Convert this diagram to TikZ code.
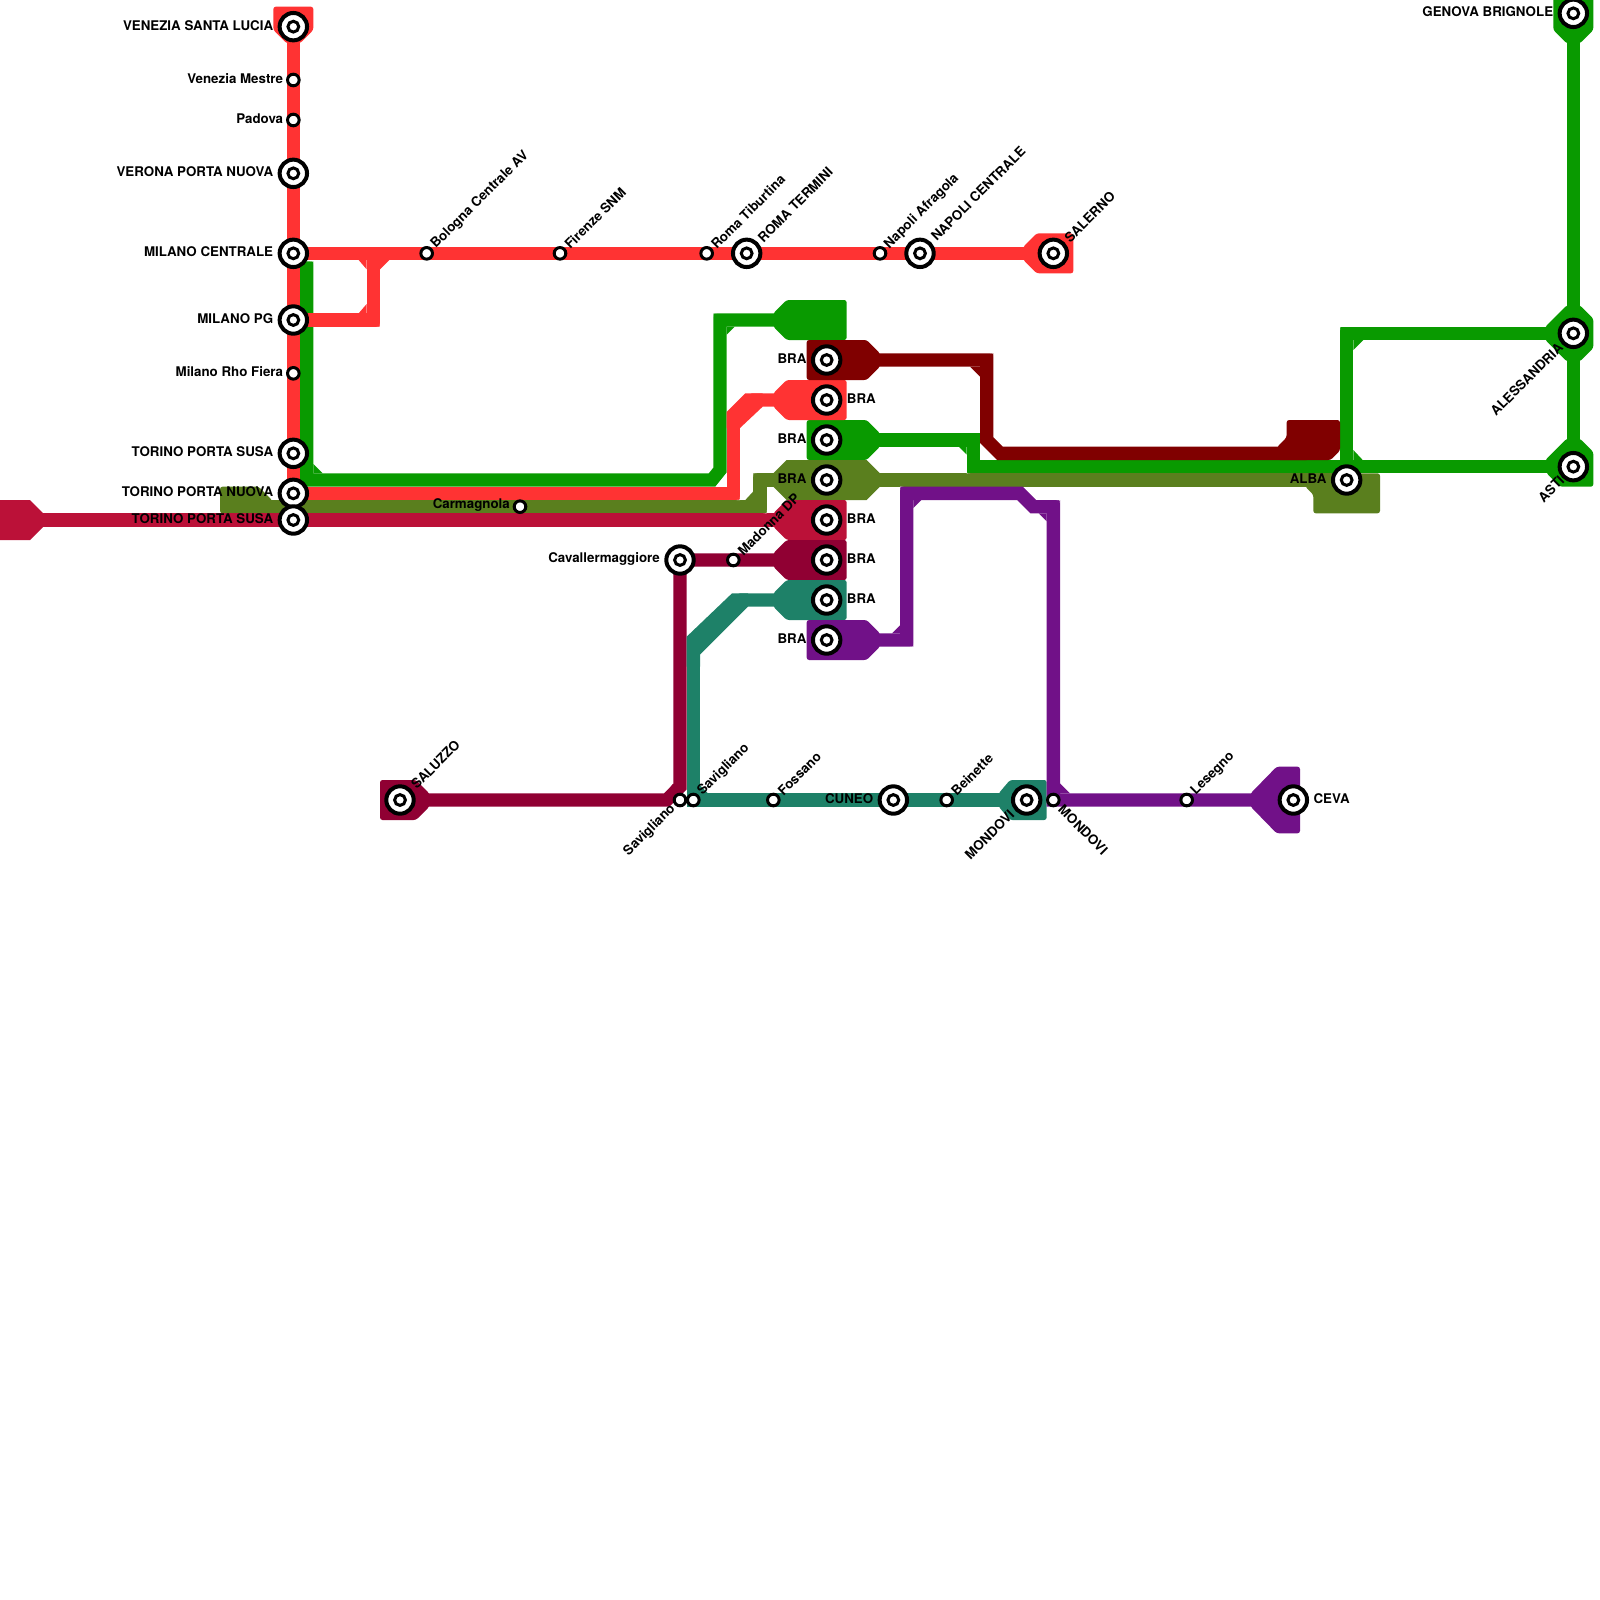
\documentclass[tikz,border=0pt]{standalone}
\usepackage{fontspec}
\setmainfont{TeX Gyre Heros}
\pgfdeclarelayer{bg}
\pgfsetlayers{bg,main}
\definecolor{cRed}{HTML}{FF3333}
\definecolor{cGreen}{HTML}{099A00}
\definecolor{cOlive}{HTML}{5A7F1E}
\definecolor{cCrimson}{HTML}{BB1138}
\definecolor{cWine}{HTML}{900033}
\definecolor{cTeal}{HTML}{1E8168}
\definecolor{cPurple}{HTML}{711188}
\definecolor{cMaroon}{HTML}{800000}
\tikzset{
  ln/.style={line width=13.333pt,line join=miter},
  lnb/.style={line width=13.333pt,line join=bevel},
  blob/.style={rounded corners=2.5pt},
  bigring/.style={circle,draw=black,fill=white,line width=4pt,minimum size=27.4pt,inner sep=0pt,outer sep=0pt},
  smallring/.style={circle,draw=black,fill=white,line width=3pt,minimum size=11.6pt,inner sep=0pt,outer sep=0pt},
  lb/.style={font=\fontsize{13.33}{13.33}\selectfont\bfseries,inner sep=0pt,text=black},
  lbW/.style={lb,anchor=east},
  lbE/.style={lb,anchor=west},
  lbNE/.style={lb,anchor=west,rotate=45},
  lbSW/.style={lb,anchor=east,rotate=45},
  lbSE/.style={lb,anchor=west,rotate=-45},
}
\newcommand\bigst[2]{\node[bigring] (#1) at (#2) {}; \draw[black,line width=3pt,fill=white] (#1.center) circle (5.4pt);}
\newcommand\smallst[2]{\node[smallring] (#1) at (#2) {};}
\newcommand\chf[4]{(#1,#2) -- ++(#3,0) -- ++(-#3,#4) -- cycle}
\newcommand\rc[4]{(#1,#2) -- ++(#3*0.25,0) .. controls (#1,#2) .. ($(#1,#2)+(0,#4*0.25)$) -- cycle}
\usetikzlibrary{calc}
\begin{document}
\begin{tikzpicture}[x=13.3333pt,y=-13.3333pt]
\useasboundingbox (0,0) rectangle (120,120);
% stations
\bigst{vsl}{22,2}
\smallst{mestre}{22,6}
\smallst{padova}{22,9}
\bigst{verona}{22,13}
\bigst{mic}{22,19}
\bigst{mipg}{22,24}
\smallst{rho}{22,28}
\bigst{tpsa}{22,34}
\bigst{tpn}{22,37}
\bigst{tpsb}{22,39}
\smallst{carm}{39,38}
\smallst{bolo}{32,19}
\smallst{fire}{42,19}
\smallst{rtib}{53,19}
\bigst{rter}{56,19}
\smallst{naf}{66,19}
\bigst{nac}{69,19}
\bigst{sal}{79,19}
\bigst{salu}{30,60}
\bigst{cav}{51,42}
\smallst{mad}{55,42}
\smallst{sava}{51,60}
\smallst{savb}{52,60}
\smallst{foss}{58,60}
\bigst{cun}{67,60}
\smallst{bei}{71,60}
\bigst{mona}{77,60}
\smallst{monb}{79,60}
\smallst{les}{89,60}
\bigst{ceva}{97,60}
\bigst{alba}{101,36}
\bigst{aless}{118,25}
\bigst{asti}{118,35}
\bigst{gen}{118,1}
\bigst{braa}{62,27}
\bigst{brab}{62,30}
\bigst{brac}{62,33}
\bigst{brad}{62,36}
\bigst{brae}{62,39}
\bigst{braf}{62,42}
\bigst{brag}{62,45}
\bigst{brah}{62,48}
% bends
\coordinate (g0) at (23,19.6);
\coordinate (g1) at (23,36);
\coordinate (g2) at (53.4,36);
\coordinate (g3) at (54,35.25);
\coordinate (g4) at (54,24);
\coordinate (g5) at (60,24);
\coordinate (h1) at (73,33);
\coordinate (h2) at (73,35);
\coordinate (h3) at (101,35);
\coordinate (h4) at (101,25);
\coordinate (r1) at (55,37);
\coordinate (r2) at (55,31.4);
\coordinate (r3) at (56.4,30);
\coordinate (b1) at (28,24);
\coordinate (b2) at (28,19);
\coordinate (o0) at (18,38);
\coordinate (o1) at (57,38);
\coordinate (o2) at (57,36);
\coordinate (m1) at (74,27);
\coordinate (m2) at (74,33);
\coordinate (m3) at (75,34);
\coordinate (m4) at (98,34);
\coordinate (c0) at (1,39);
\coordinate (w1) at (51,59);
\coordinate (w2) at (50,60);
\coordinate (t1) at (55.5,45);
\coordinate (t2) at (52,48.5);
\coordinate (p1) at (68,48);
\coordinate (p2) at (68,37);
\coordinate (p3) at (76.5,37);
\coordinate (p4) at (77.5,38);
\coordinate (p5) at (79,38);
\begin{pgfonlayer}{bg}
% green
\draw[ln,cGreen] (g0) -- (g1) -- (g2) -- (g3) -- (g4) -- (g5);
\fill[cGreen] \chf{23.5}{35.5}{.7}{-.7} \chf{54.5}{24.5}{.6}{.6};
\fill[cGreen,blob] (58,23.5) -- (59,22.5) -- (63.5,22.5) -- (63.5,25.5) -- (59,25.5) -- (58,24.5) -- cycle;
\draw[ln,cGreen] (brac.center) -- (h1) -- (h2) -- (h3);
\fill[cGreen] \chf{72.5}{33.5}{-.6}{.6};
\fill[cGreen,blob] (60.5,31.5) -- (65,31.5) -- (66,32.5) -- (66,33.5) -- (65,34.5) -- (60.5,34.5) -- cycle;
\draw[ln,cGreen] (asti.center) -- (h3) -- (h4) -- (aless.center);
\draw[ln,cGreen] (gen.center) -- (asti.center);
\fill[cGreen] \chf{101.5}{25.5}{.75}{.75} \chf{101.5}{34.5}{.7}{-.75};
\fill[cGreen,blob] (115.9,24.5) -- (117.5,22.9) -- (118.5,22.9) -- (119.5,23.9) -- (119.5,26.1) -- (118.5,27.1) -- (117.5,27.1) -- (115.9,25.5) -- cycle;
\fill[cGreen,blob] (115.9,34.5) -- (117.5,32.9) -- (118.5,32.9) -- (119.5,33.9) -- (119.5,36.5) -- (117,36.5) -- (116,35.5) -- cycle;
\fill[cGreen,blob] (116.5,-1) -- (119.5,-1) -- (119.5,2.25) -- (118.5,3.25) -- (117.5,3.25) -- (116.5,2.25) -- cycle;
% red
\draw[ln,cRed] (vsl.center) -- (tpn.center);
\draw[ln,cRed] (mic.center) -- (sal.center);
\draw[ln,cRed] (mipg.center) -- (b1) -- (b2);
\fill[cRed] \chf{27.5}{19.5}{-.6}{.7} \chf{28.5}{19.5}{.7}{.7} \chf{27.5}{23.5}{-.6}{-.7};
\draw[ln,cRed] (tpn.center) -- (r1) -- (r2);
\draw[lnb,cRed] (r2) -- (r3) -- (brab.center);
\fill[cRed] (54.5,30.9) -- (55.9,29.5) -- (57.2,29.5) -- (57.2,30.5) -- (55.5,32.1) -- (54.5,32.1) -- cycle;
\fill[cRed,blob] (58,29.5) -- (59,28.5) -- (63.5,28.5) -- (63.5,31.5) -- (59,31.5) -- (58,30.5) -- cycle;
\fill[cRed,blob] (20.5,0.5) -- (23.5,0.5) -- (23.5,2.25) -- (22.5,3.25) -- (21.5,3.25) -- (20.5,2.25) -- cycle;
\fill[cRed,blob] (76.75,18.5) -- (77.75,17.5) -- (80.5,17.5) -- (80.5,20.5) -- (77.75,20.5) -- (76.75,19.5) -- cycle;
% olive
\draw[ln,cOlive] (o0) -- (o1) -- (o2) -- (brad.center);
\draw[ln,cOlive] (brad.center) -- (alba.center);
\fill[cOlive] (55.9,37.5) -- (56.5,36.85) -- (56.5,37.5) -- cycle;
\fill[cOlive,blob] (16.5,36.5) -- (19.4,36.5) -- (20.4,37.5) -- (20.4,38.5) -- (16.5,38.5) -- cycle;
\fill[cOlive] (58,35.5) -- (59,34.5) -- (65,34.5) -- (66,35.5) -- (66,36.5) -- (65,37.5) -- (59,37.5) -- (58,36.5) -- cycle;
\fill[cOlive,blob] (97.9,36.5) -- (98.5,37.1) -- (98.5,38.5) -- (103.5,38.5) -- (103.5,35.5) -- (101,35.5) -- (97.9,35.5) -- cycle;
% crimson
\draw[ln,cCrimson] (c0) -- (brae.center);
\fill[cCrimson] (-1,37.5) -- (2.25,37.5) -- (3.25,38.5) -- (3.25,39.5) -- (2.25,40.5) -- (-1,40.5) -- cycle;
\fill[cCrimson,blob] (58,38.5) -- (59,37.5) -- (63.5,37.5) -- (63.5,40.5) -- (59,40.5) -- (58,39.5) -- cycle;
% wine
\draw[ln,cWine] (braf.center) -- (cav.center) -- (w1) -- (w2) -- (salu.center);
\fill[cWine] \chf{50.5}{59.5}{-.6}{-.75};
\fill[cWine,blob] (58,41.5) -- (59,40.5) -- (63.5,40.5) -- (63.5,43.5) -- (59,43.5) -- (58,42.5) -- cycle;
\fill[cWine,blob] (28.5,58.5) -- (31.2,58.5) -- (32.2,59.5) -- (32.2,60.5) -- (31.2,61.5) -- (28.5,61.5) -- cycle;
% teal
\draw[lnb,cTeal] (brag.center) -- (t1) -- (t2);
\draw[ln,cTeal] (t2) -- (savb.center) -- (mona.center);
\fill[cTeal] (54.9,44.5) -- (56.1,44.5) -- (56.1,45.5) -- (52.5,49.1) -- (52.5,50) -- (51.5,50) -- (51.5,47.75) -- cycle;
\fill[cTeal] \chf{52.5}{59.5}{.6}{-.6};
\fill[cTeal,blob] (58,44.5) -- (59,43.5) -- (63.5,43.5) -- (63.5,46.5) -- (59,46.5) -- (58,45.5) -- cycle;
\fill[cTeal,blob] (74.9,59.5) -- (75.75,58.5) -- (78.5,58.5) -- (78.5,61.5) -- (75.75,61.5) -- (74.9,60.5) -- cycle;
% maroon
\draw[ln,cMaroon] (braa.center) -- (m1) -- (m2) -- (m3) -- (m4);
\fill[cMaroon] \chf{73.5}{27.5}{-.75}{.75};
\fill[cMaroon,blob] (60.5,25.5) -- (65,25.5) -- (66,26.5) -- (66,27.5) -- (65,28.5) -- (60.5,28.5) -- cycle;
\fill[cMaroon,blob] (95.8,33.5) -- (96.5,32.8) -- (96.5,31.5) -- (100.5,31.5) -- (100.5,33.8) -- (99.8,34.5) -- (95.8,34.5) -- cycle;
% purple
\draw[ln,cPurple] (brah.center) -- (p1) -- (p2) -- (p3) -- (p4) -- (p5) -- (monb.center) -- (ceva.center);
\fill[cPurple] \chf{67.5}{47.5}{-.6}{-.6} \chf{68.5}{37.5}{.6}{.6} \chf{78.5}{38.5}{-.6}{.6} \chf{79.5}{59.5}{.75}{-.75};
\fill[cPurple,blob] (60.5,46.5) -- (65,46.5) -- (66,47.5) -- (66,48.5) -- (65,49.5) -- (60.5,49.5) -- cycle;
\fill[cPurple,blob] (93.8,59.5) -- (95.75,57.5) -- (97.5,57.5) -- (97.5,62.5) -- (95.75,62.5) -- (93.8,60.5) -- cycle;
% softened outer corners of the bends
\fill[white] \rc{74.5}{26.5}{-1}{1} \rc{28.5}{24.5}{-1}{-1} \rc{53.5}{23.5}{1}{1} \rc{55.5}{37.5}{-1}{-1} \rc{100.5}{24.5}{1}{1} \rc{68.5}{48.5}{-1}{-1} \rc{67.5}{36.5}{1}{1} \rc{79.5}{37.5}{-1}{1} \rc{56.5}{35.5}{1}{1} \rc{57.5}{38.5}{-1}{-1} \rc{72.5}{35.5}{1}{-1} \rc{23.5}{19.6}{-1}{1};
\end{pgfonlayer}
% labels
\node[lbW] (lvsl) at ([shift={(-1.5,-.1)}]vsl.center) {VENEZIA SANTA LUCIA};
\node[lbW] (lmes) at ([shift={(-.75,-.1)}]mestre.center) {Venezia Mestre};
\node[lbW] (lpad) at ([shift={(-.75,-.1)}]padova.center) {Padova};
\node[lbW] (lver) at ([shift={(-1.5,-.1)}]verona.center) {VERONA PORTA NUOVA};
\node[lbW] (lmic) at ([shift={(-1.5,-.1)}]mic.center) {MILANO CENTRALE};
\node[lbW] (lmpg) at ([shift={(-1.5,-.1)}]mipg.center) {MILANO PG};
\node[lbW] (lrho) at ([shift={(-.75,-.1)}]rho.center) {Milano Rho Fiera};
\node[lbW] (ltsa) at ([shift={(-1.5,-.1)}]tpsa.center) {TORINO PORTA SUSA};
\node[lbW] (ltpn) at ([shift={(-1.5,-.1)}]tpn.center) {TORINO PORTA NUOVA};
\node[lbW] (ltsb) at ([shift={(-1.5,-.1)}]tpsb.center) {TORINO PORTA SUSA};
\node[lbW] (lcar) at ([shift={(-.75,-.1)}]carm.center) {Carmagnola};
\node[lbW] (lcav) at ([shift={(-1.5,-.1)}]cav.center) {Cavallermaggiore};
\node[lbW] (lcun) at ([shift={(-1.5,-.1)}]cun.center) {CUNEO};
\node[lbW] (lalb) at ([shift={(-1.5,-.1)}]alba.center) {ALBA};
\node[lbW] (lgen) at ([shift={(-1.5,-.1)}]gen.center) {GENOVA BRIGNOLE};
\node[lbW] (lbra) at ([shift={(-1.5,-.1)}]braa.center) {BRA};
\node[lbW] (lbrc) at ([shift={(-1.5,-.1)}]brac.center) {BRA};
\node[lbW] (lbrd) at ([shift={(-1.5,-.1)}]brad.center) {BRA};
\node[lbW] (lbrh) at ([shift={(-1.5,-.1)}]brah.center) {BRA};
\node[lbE] (lbrb) at ([shift={(1.5,-.1)}]brab.center) {BRA};
\node[lbE] (lbre) at ([shift={(1.5,-.1)}]brae.center) {BRA};
\node[lbE] (lbrf) at ([shift={(1.5,-.1)}]braf.center) {BRA};
\node[lbE] (lbrg) at ([shift={(1.5,-.1)}]brag.center) {BRA};
\node[lbE] (lcev) at ([shift={(1.5,-.1)}]ceva.center) {CEVA};
\node[lbNE] (lbol) at ([shift={(.5,-.5)}]bolo.center) {Bologna Centrale AV};
\node[lbNE] (lfir) at ([shift={(.5,-.5)}]fire.center) {Firenze SNM};
\node[lbNE] (lrti) at ([shift={(.5,-.5)}]rtib.center) {Roma Tiburtina};
\node[lbNE] (lrte) at ([shift={(1,-1)}]rter.center) {ROMA TERMINI};
\node[lbNE] (lnaf) at ([shift={(.5,-.5)}]naf.center) {Napoli Afragola};
\node[lbNE] (lnac) at ([shift={(1,-1.1)}]nac.center) {NAPOLI CENTRALE};
\node[lbNE] (lsal) at ([shift={(1,-1)}]sal.center) {SALERNO};
\node[lbNE] (lslu) at ([shift={(1,-1)}]salu.center) {SALUZZO};
\node[lbNE] (lmad) at ([shift={(.5,-.5)}]mad.center) {Madonna DP};
\node[lbNE] (lsvb) at ([shift={(.5,-.5)}]savb.center) {Savigliano};
\node[lbNE] (lfos) at ([shift={(.5,-.5)}]foss.center) {Fossano};
\node[lbNE] (lbei) at ([shift={(.5,-.5)}]bei.center) {Beinette};
\node[lbNE] (lles) at ([shift={(.5,-.5)}]les.center) {Lesegno};
\node[lbSW] (lsva) at ([shift={(-.5,.5)}]sava.center) {Savigliano};
\node[lbSW] (lmna) at ([shift={(-1.1,.9)}]mona.center) {MONDOVI};
\node[lbSW] (lale) at ([shift={(-.95,.9)}]aless.center) {ALESSANDRIA};
\node[lbSW] (last) at ([shift={(-.85,.85)}]asti.center) {ASTI};
\node[lbSE] (lmnb) at ([shift={(.55,.55)}]monb.center) {MONDOVI};
\end{tikzpicture}
\end{document}
